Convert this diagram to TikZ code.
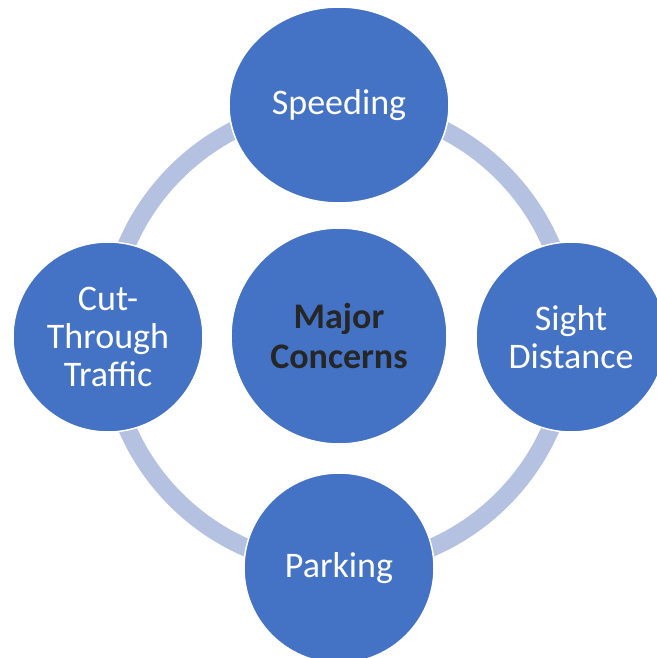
\documentclass[tikz,border=0pt]{standalone}
\usepackage{fontspec}
\setmainfont{Carlito}
\usepackage{xcolor}
\usepackage{tikz}
\usetikzlibrary{shapes.geometric,backgrounds}
\definecolor{topicblue}{HTML}{4472C4}
\definecolor{ringblue}{HTML}{B4C1E1}
\definecolor{hubtext}{HTML}{262626}
\tikzset{
  topic/.style={circle,fill=topicblue,draw=white,line width=1.5pt,align=center,
    inner sep=0pt,minimum size=190pt,text=white,
    font=\fontsize{36}{38}\selectfont},
  hub/.style={topic,minimum size=216pt,text=hubtext,
    font=\fontsize{36}{40}\selectfont\bfseries},
  ringline/.style={draw=ringblue,line width=18pt},
}
\begin{document}
\begin{tikzpicture}[x=1pt,y=-1pt]
\useasboundingbox (0,0) rectangle (656,658);
% Hub in the middle
\node[hub] (major) at (339,336) {Major\\Concerns};
% Four topics sitting on the ring
\node[topic,ellipse,minimum width=220pt,minimum height=196pt] (speed) at (339,105) {Speeding};
\node[topic] (sight) at (571,337) {Sight\\Distance};
\node[topic] (park) at (339,568) {Parking};
\node[topic] (cut) at (108,337) {Cut-\\Through\\Traffic};
% Ring behind the topics
\begin{scope}[on background layer]
\draw[ringline] (major) circle[radius=231pt];
\end{scope}
\end{tikzpicture}
\end{document}
